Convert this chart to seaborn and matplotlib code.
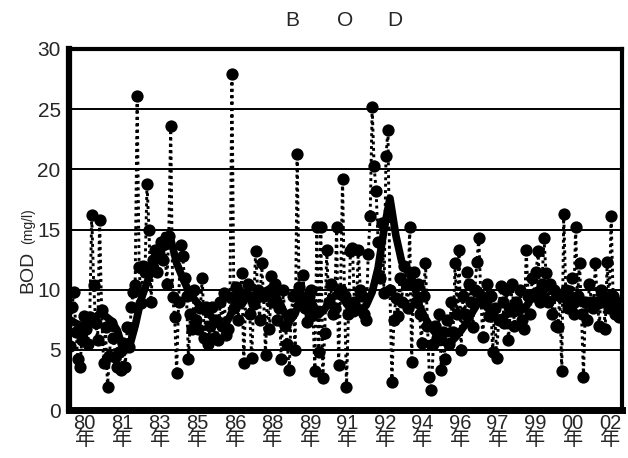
import numpy as np
import pandas as pd
import matplotlib
matplotlib.use("Agg")
import matplotlib.pyplot as plt
import seaborn as sns

# Monthly BOD readings (mg/l), starting spring 1980
bod = [
    5.3, 8.6, 9.8, 6.5, 4.2, 3.6, 5.8, 7.8, 6.7, 5.5,
    7.7, 16.2, 10.4, 7.2, 5.8, 15.8, 8.3, 3.9, 6.9, 1.9,
    4.5, 7.2, 6.0, 4.4, 3.6, 4.8, 3.3, 5.6, 3.6, 6.9,
    5.2, 8.6, 9.8, 10.4, 26.1, 11.9, 8.9, 12.0, 11.5, 18.8,
    15.0, 9.0, 12.5, 13.3, 11.5, 13.0, 14.0, 12.5, 13.8, 10.5,
    14.5, 23.6, 9.4, 7.7, 3.1, 9.0, 13.7, 12.8, 11.0, 9.5,
    4.2, 8.0, 6.7, 10.0, 7.5, 6.7, 8.5, 11.0, 6.0, 8.6,
    5.5, 7.0, 8.6, 6.0, 7.5, 5.8, 9.0, 7.0, 9.75, 6.2,
    6.7, 9.4, 27.9, 8.5, 10.2, 7.5, 9.0, 11.4, 3.9, 9.5,
    10.5, 8.0, 4.3, 8.8, 13.2, 10.0, 7.5, 12.2, 9.5, 4.6,
    9.8, 6.7, 11.1, 9.0, 10.5, 7.5, 8.5, 4.2, 10.0, 7.0,
    5.5, 3.3, 8.0, 9.5, 5.0, 21.25, 10.2, 9.0, 11.25, 8.5,
    7.3, 9.5, 10.0, 8.0, 3.2, 15.2, 4.8, 15.2, 2.7, 6.4,
    13.3, 9.0, 10.5, 8.0, 8.5, 15.2, 3.75, 10.0, 19.2, 9.5,
    1.9, 8.0, 13.2, 13.5, 9.0, 8.5, 13.3, 10.0, 9.5, 8.0,
    7.5, 13.0, 16.1, 25.2, 20.25, 18.2, 14.0, 11.0, 15.5, 9.75,
    21.1, 23.3, 10.0, 2.3, 7.5, 9.3, 7.8, 11.0, 9.0, 12.0,
    10.5, 8.5, 15.2, 4.0, 11.5, 9.0, 10.5, 8.0, 5.6, 9.5,
    12.2, 7.0, 2.75, 1.7, 5.5, 7.0, 6.0, 8.0, 3.3, 6.5,
    4.2, 7.5, 5.5, 9.0, 6.5, 12.2, 8.0, 13.3, 5.0, 9.5,
    8.0, 11.5, 10.5, 9.0, 6.9, 10.0, 12.3, 14.3, 9.5, 6.1,
    9.0, 10.5, 7.8, 9.5, 4.8, 8.5, 4.3, 7.5, 10.3, 9.0,
    7.2, 10.0, 5.8, 8.5, 10.5, 7.0, 9.0, 8.5, 10.0, 7.5,
    6.7, 13.3, 9.5, 8.0, 11.0, 9.5, 11.5, 13.2, 9.0, 10.5,
    14.3, 11.4, 9.0, 10.5, 8.0, 10.0, 7.0, 6.9, 9.5, 3.2,
    16.25, 10.0, 8.5, 9.5, 11.0, 8.0, 15.2, 9.5, 12.2, 8.0,
    2.75, 9.0, 7.5, 10.5, 9.0, 8.5, 12.2, 9.0, 7.0, 10.0,
    9.5, 6.7, 12.3, 8.5, 16.1, 9.5, 8.0, 9.0, 7.75, 8.0,
]

# Moving-average trend, one value every third month
trend_step = 3
trend = [
    7.5, 7.2, 7.0, 7.3, 7.6, 8.0, 7.8, 7.4, 6.6, 5.0,
    5.2, 7.0, 9.2, 10.6, 11.8, 13.0, 14.5, 14.2, 12.2, 11.0,
    9.9, 9.2, 8.6, 8.2, 7.7, 7.3, 6.9, 7.8, 8.9, 9.8,
    9.7, 9.4, 9.2, 9.8, 10.2, 9.3, 8.3, 7.3, 8.0, 9.4,
    9.6, 8.8, 7.9, 8.4, 9.2, 9.6, 9.3, 8.6, 8.0, 8.3,
    8.7, 9.8, 11.8, 15.0, 17.6, 14.5, 12.3, 11.5, 10.6, 8.6,
    7.6, 6.8, 6.2, 5.8, 5.5, 6.0, 6.6, 7.3, 8.2, 9.0,
    8.7, 8.2, 7.6, 7.7, 8.0, 8.0, 8.2, 8.6, 9.4, 10.0,
    9.6, 9.0, 9.4, 9.5, 8.8, 8.6, 9.0, 9.0, 9.0, 8.6,
    8.8, 9.0, 8.5, 8.0,
]

year_labels = ["80", "81", "83", "85", "86", "88", "89", "91",
               "92", "94", "96", "97", "99", "00", "02"]
label_every = 19  # months between year labels

sns.set_style("white")
plt.rcParams["font.family"] = ["Liberation Sans", "Noto Sans CJK JP", "DejaVu Sans"]

df = pd.DataFrame({"month": np.arange(len(bod)), "bod": bod})
tdf = pd.DataFrame({"month": np.arange(len(trend)) * trend_step, "bod": trend})

fig = plt.figure(figsize=(6.28, 4.58), dpi=100)
ax = fig.add_axes([69 / 628, 1 - 410 / 458, 553 / 628, 361 / 458])

for y in range(5, 30, 5):
    ax.axhline(y, color="black", lw=1.4, zorder=1)

sns.lineplot(data=df, x="month", y="bod", ax=ax, color="black", lw=2.1,
             linestyle=(0, (1.0, 1.2)), zorder=2)
sns.scatterplot(data=df, x="month", y="bod", ax=ax, color="black", s=78,
                edgecolor="black", linewidth=0, zorder=3)
sns.lineplot(data=tdf, x="month", y="bod", ax=ax, color="black", lw=5.5,
             solid_joinstyle="round", solid_capstyle="round", zorder=4)

ax.set_xlim(-0.5, len(bod) - 0.5)
ax.set_ylim(0, 30)
ax.set_yticks(range(0, 31, 5))
ax.set_yticks(range(0, 31, 1), minor=True)
ax.tick_params(axis="y", which="major", direction="in", length=4, width=1.3,
               labelsize=15, pad=6)
ax.tick_params(axis="y", which="minor", direction="in", length=3, width=1.1)

tick_pos = [7.5 + label_every * k for k in range(len(year_labels))]
ax.set_xticks(tick_pos)
ax.set_xticklabels([f"{y}\n年" for y in year_labels], fontsize=14.5,
                   linespacing=0.82)
ax.tick_params(axis="x", length=0, pad=3)

ax.set_xlabel("")
ax.set_ylabel("")

for side, w in [("left", 4.5), ("bottom", 5.0), ("top", 3.0), ("right", 3.0)]:
    ax.spines[side].set_visible(True)
    ax.spines[side].set_color("black")
    ax.spines[side].set_linewidth(w)

fig.text(28 / 628, 1 - 272 / 458, "BOD", rotation=90, fontsize=14,
         ha="center", va="center")
fig.text(28 / 628, 1 - 226 / 458, "(mg/l)", rotation=90, fontsize=10,
         ha="center", va="center")

for x, ch in [(292, "B"), (345, "O"), (395, "D")]:
    fig.text(x / 628, 1 - 20 / 458, ch, fontsize=15, ha="center", va="center")

fig.savefig("out.png", dpi=100)
